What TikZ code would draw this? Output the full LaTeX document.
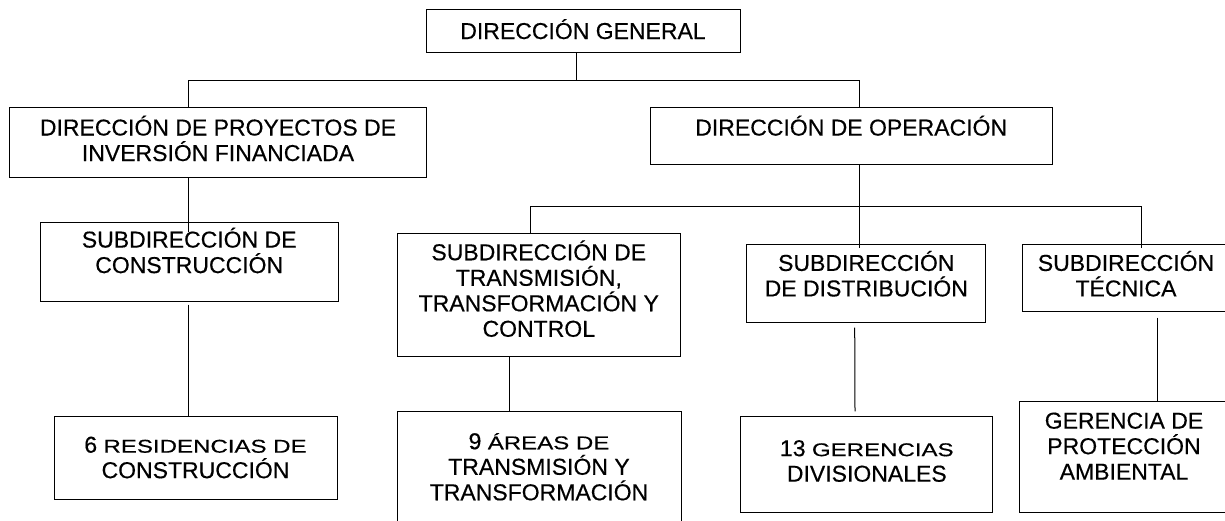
\documentclass[tikz,border=0pt]{standalone}
\usepackage{fontspec}
\setmainfont{Liberation Sans}[UprightFeatures={FakeBold=0.4}]
\newfontfamily\smallfont{Liberation Sans}[UprightFeatures={FakeStretch=1.3,FakeBold=0.4}]
\newcommand{\caja}[4]{\parbox[c][#2pt][t]{#1pt}{\centering\rule{0pt}{#3pt}#4}}
\newcommand{\pequena}[1]{{\smallfont\fontsize{18.5}{25.5}\selectfont #1}}

\begin{document}
\begin{tikzpicture}[x=1pt, y=-1pt, line width=1pt,
    unit/.style={draw, inner sep=0pt, font=\fontsize{23}{25.5}\selectfont}]
    \useasboundingbox (0,0) rectangle (1225,520);
    \clip (0,0) rectangle (1225,520);

    \node[unit] (dg) at (583,30.8) {\caja{314}{43}{29.7}{DIRECCIÓN GENERAL}};
    \node[unit] (dpif) at (218,142.5) {\caja{417.4}{69.6}{27.8}{DIRECCIÓN DE PROYECTOS DE\\INVERSIÓN FINANCIADA}};
    \node[unit] (dop) at (851.2,135.9) {\caja{402.3}{56.3}{27.8}{DIRECCIÓN DE OPERACIÓN}};

    \node[unit] (sdc) at (189.2,261.9) {\caja{298.3}{78.3}{24.8}{SUBDIRECCIÓN DE\\CONSTRUCCIÓN}};
    \node[unit] (sdt) at (538.8,294.8) {\caja{283.5}{123.5}{27.2}{SUBDIRECCIÓN DE\\TRANSMISIÓN,\\TRANSFORMACIÓN Y\\CONTROL}};
    \node[unit] (sdd) at (866.3,283) {\caja{238.7}{78}{26.9}{SUBDIRECCIÓN\\DE DISTRIBUCIÓN}};
    \node[unit] (sdtec) at (1126,277.5) {\caja{208}{67}{26.9}{SUBDIRECCIÓN\\TÉCNICA}};

    \node[unit] (res) at (195.5,458.3) {\caja{283}{83.3}{36}{6 \pequena{RESIDENCIAS DE}\\CONSTRUCCIÓN}};
    \node[unit] (areas) at (539,475.9) {\caja{284}{128.3}{37.5}{9 \pequena{ÁREAS DE}\\TRANSMISIÓN Y\\TRANSFORMACIÓN}};
    \node[unit] (ger) at (866.8,464.8) {\caja{252.3}{96.3}{39.5}{13 \pequena{GERENCIAS}\\DIVISIONALES}};
    \node[unit] (gpa) at (1124,457.3) {\caja{210}{111.3}{27}{GERENCIA DE\\PROTECCIÓN\\AMBIENTAL}};

    % lineas de mando
    \coordinate (bar1) at (576,80.7);
    \coordinate (bar2) at (859.3,206.7);
    \draw ([xshift=-7pt]dg.south) -- (bar1);
    \draw ([xshift=-29.7pt]dpif.north) |- (bar1) -| ([xshift=8.1pt]dop.north);
    \draw ([xshift=-29.7pt]dpif.south) -- ([xshift=-0.9pt,yshift=-9.3pt]sdc.north);
    \draw ([xshift=-1.2pt,yshift=-3pt]sdc.south) -- ([xshift=-7.5pt]res.north);
    \draw ([xshift=8.1pt]dop.south) -- ([xshift=-7pt,yshift=-4pt]sdd.north);
    \draw ([xshift=-8.1pt]sdt.north) |- (bar2) -| ([xshift=15pt,yshift=-4pt]sdtec.north);
    \draw ([xshift=-29.5pt]sdt.south) -- ([xshift=-29.7pt]areas.north);
    \draw ([xshift=-11.6pt,yshift=-5pt]sdd.south) -- ([xshift=-11.8pt,yshift=4.7pt]ger.north);
    \draw ([xshift=31pt,yshift=-6pt]sdtec.south) -- ([xshift=33pt]gpa.north);
\end{tikzpicture}
\end{document}
